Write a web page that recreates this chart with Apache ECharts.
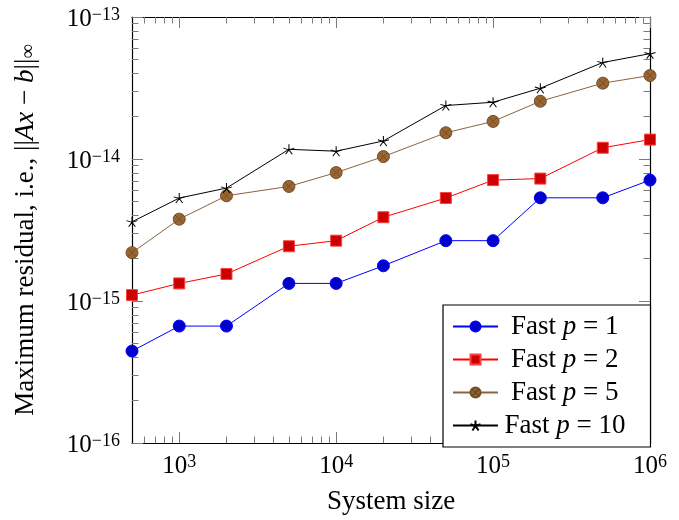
<!DOCTYPE html>
<html>
<head>
<meta charset="utf-8">
<script src="https://cdn.jsdelivr.net/npm/echarts@6/dist/echarts.min.js"></script>
<style>html,body{margin:0;padding:0;background:#fff}#c{width:679px;height:520px}</style>
</head>
<body>
<div id="c"></div>
<script>
// ---- data ----
const systemSizes = [500, 1000, 2000, 5000, 10000, 20000, 50000, 100000, 200000, 500000, 1000000];
const fastP1  = [4.44e-16, 6.66e-16, 6.66e-16, 1.33e-15, 1.33e-15, 1.77e-15, 2.66e-15, 2.66e-15, 5.33e-15, 5.33e-15, 7.10e-15];
const fastP2  = [1.10e-15, 1.33e-15, 1.55e-15, 2.43e-15, 2.66e-15, 3.89e-15, 5.31e-15, 7.10e-15, 7.28e-15, 1.20e-14, 1.37e-14];
const fastP5  = [2.19e-15, 3.77e-15, 5.51e-15, 6.41e-15, 8.02e-15, 1.04e-14, 1.53e-14, 1.84e-14, 2.55e-14, 3.42e-14, 3.87e-14];
const fastP10 = [3.61e-15, 5.31e-15, 6.24e-15, 1.17e-14, 1.135e-14, 1.34e-14, 2.38e-14, 2.51e-14, 3.15e-14, 4.78e-14, 5.52e-14];
const seriesNames = ['Fast p = 1', 'Fast p = 2', 'Fast p = 5', 'Fast p = 10'];
const legendP = ['1', '2', '5', '10'];

const xMajorTicks = [1e3, 1e4, 1e5, 1e6];
const xMinorTicks = [600, 700, 800, 900, 2e3, 3e3, 4e3, 5e3, 6e3, 7e3, 8e3, 9e3,
  2e4, 3e4, 4e4, 5e4, 6e4, 7e4, 8e4, 9e4, 2e5, 3e5, 4e5, 5e5, 6e5, 7e5, 8e5, 9e5];
const yMajorTicks = [1e-16, 1e-15, 1e-14, 1e-13];
const yMinorTicks = [2e-16, 3e-16, 4e-16, 5e-16, 6e-16, 7e-16, 8e-16, 9e-16,
  2e-15, 3e-15, 4e-15, 5e-15, 6e-15, 7e-15, 8e-15, 9e-15,
  2e-14, 3e-14, 4e-14, 5e-14, 6e-14, 7e-14, 8e-14, 9e-14];

// ---- style ----
const F = 'Liberation Serif';
const TICK = '#7a7a7a';
const rich = {
  b: { fontFamily: F, fontSize: 25, lineHeight: 26, color: '#000' },
  s: { fontFamily: F, fontSize: 18, lineHeight: 18, color: '#000', verticalAlign: 'top' }
};
function powLabel(v) {
  const e = Math.round(Math.log10(v));
  return '{b|10}{s|' + (e < 0 ? '\u2212' + (-e) : e) + '}';
}
const pairs = arr => systemSizes.map((x, i) => [x, arr[i]]);

function mkAxis(dim, pos, ticks, len, withLabels, extra) {
  const base = {
    type: 'log', logBase: 10, gridIndex: 0, position: pos,
    min: dim === 'x' ? 500 : 1e-16, max: dim === 'x' ? 1e6 : 1e-13,
    axisLine: { show: true, onZero: false, lineStyle: { color: '#000', width: 1.2 } },
    axisTick: { show: true, inside: true, length: len, customValues: ticks, lineStyle: { color: TICK, width: 1 } },
    axisLabel: withLabels ? {
      show: true, customValues: ticks, formatter: powLabel, rich: rich,
      margin: dim === 'x' ? 10 : 12, color: '#000',
      padding: dim === 'x' ? 0 : [5, 0, 0, 0]
    } : { show: false },
    splitLine: { show: false },
    minorTick: { show: false }, minorSplitLine: { show: false }
  };
  return Object.assign(base, extra || {});
}

const circlePath = 'path://M20,10A10,10,0,1,1,0,10A10,10,0,1,1,20,10Z';
const otimesPath = 'path://M20,10A10,10,0,1,1,0,10A10,10,0,1,1,20,10ZM2.93,2.93L17.07,17.07M17.07,2.93L2.93,17.07';
const starPath = 'path://M10,0L10,10M19.51,6.91L10,10M15.88,18.09L10,10M4.12,18.09L10,10M0.49,6.91L10,10';

const chart = echarts.init(document.getElementById('c'), null, { renderer: 'canvas' });
chart.setOption({
  animation: false,
  backgroundColor: '#fff',
  grid: { left: 132, right: 29, top: 17, bottom: 73, containLabel: false },
  xAxis: [
    mkAxis('x', 'bottom', xMajorTicks, 11, true, {
      name: 'System size', nameLocation: 'middle', nameGap: 45,
      nameTextStyle: { fontFamily: F, fontSize: 27, color: '#000' }
    }),
    mkAxis('x', 'bottom', xMinorTicks, 6.5, false, { axisLine: { show: false, onZero: false } }),
    mkAxis('x', 'top', xMajorTicks, 11, false),
    mkAxis('x', 'top', xMinorTicks, 6.5, false, { axisLine: { show: false, onZero: false } })
  ],
  yAxis: [
    mkAxis('y', 'left', yMajorTicks, 11, true, {
      name: '{t|Maximum residual, i.e., ||}{i|Ax}{t| \u2212 }{i|b}{t|||}{sub|\u221e}',
      nameLocation: 'middle', nameRotate: 90, nameGap: 93,
      nameTextStyle: {
        fontFamily: F, fontSize: 27, color: '#000',
        rich: {
          t: { fontFamily: F, fontSize: 27, color: '#000', lineHeight: 30, verticalAlign: 'bottom' },
          i: { fontFamily: F, fontSize: 27, fontStyle: 'italic', color: '#000', lineHeight: 30, verticalAlign: 'bottom' },
          sub: { fontFamily: F, fontSize: 20, color: '#000', lineHeight: 20, verticalAlign: 'bottom' }
        }
      }
    }),
    mkAxis('y', 'left', yMinorTicks, 6.5, false, { axisLine: { show: false, onZero: false } }),
    mkAxis('y', 'right', yMajorTicks, 11, false),
    mkAxis('y', 'right', yMinorTicks, 6.5, false, { axisLine: { show: false, onZero: false } })
  ],
  legend: {
    orient: 'vertical', left: 443, top: 305,
    backgroundColor: '#fff', borderColor: '#000', borderWidth: 1.2, borderRadius: 0,
    padding: [8, 25, 8, 9],
    itemWidth: 45, itemHeight: 12.5, itemGap: 6,
    data: seriesNames,
    formatter: function (name) {
      const p = legendP[seriesNames.indexOf(name)];
      return (p.length > 1 ? '{t2|Fast }' : '{t1|Fast }') + '{i|p}{t| = ' + p + '}';
    },
    textStyle: {
      fontFamily: F, fontSize: 27, color: '#000',
      rich: {
        t1: { fontFamily: F, fontSize: 27, lineHeight: 27, color: '#000', padding: [0, 0, 0, 8] },
        t2: { fontFamily: F, fontSize: 27, lineHeight: 27, color: '#000', padding: [0, 0, 0, 1.5] },
        t: { fontFamily: F, fontSize: 27, lineHeight: 27, color: '#000' },
        i: { fontFamily: F, fontSize: 27, lineHeight: 27, fontStyle: 'italic', color: '#000' }
      }
    }
  },
  series: [
    {
      name: seriesNames[0], type: 'line', xAxisIndex: 0, yAxisIndex: 0, data: pairs(fastP1), clip: false,
      symbol: circlePath, symbolSize: 12, color: '#0000ff',
      lineStyle: { color: '#0000ff', width: 1 },
      itemStyle: { color: '#0000cc', borderColor: '#0000ff', borderWidth: 1 }
    },
    {
      name: seriesNames[1], type: 'line', xAxisIndex: 0, yAxisIndex: 0, data: pairs(fastP2), clip: false,
      symbol: 'rect', symbolSize: 11, color: '#ff0000',
      lineStyle: { color: '#ff0000', width: 1 },
      itemStyle: { color: '#cc0000', borderColor: '#ff4040', borderWidth: 1 }
    },
    {
      name: seriesNames[2], type: 'line', xAxisIndex: 0, yAxisIndex: 0, data: pairs(fastP5), clip: false,
      symbol: otimesPath, symbolSize: 12, color: '#8a6440',
      lineStyle: { color: '#8a6440', width: 1 },
      itemStyle: { color: '#996633', borderColor: '#734d26', borderWidth: 1 }
    },
    {
      name: seriesNames[3], type: 'line', xAxisIndex: 0, yAxisIndex: 0, data: pairs(fastP10), clip: false,
      symbol: starPath, symbolSize: [11, 10.5], symbolKeepAspect: true, color: '#000',
      lineStyle: { color: '#000', width: 1 },
      itemStyle: { color: '#000', borderColor: '#000', borderWidth: 1 }
    }
  ]
});
</script>
</body>
</html>
